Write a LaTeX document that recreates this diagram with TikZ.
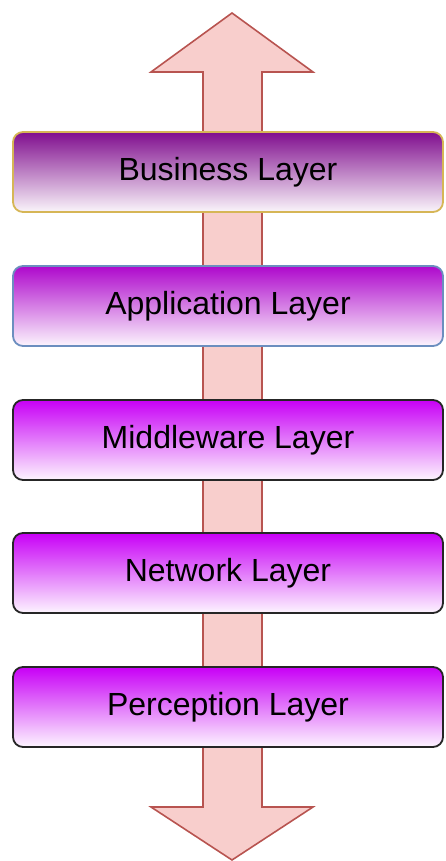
\documentclass[tikz,border=0pt]{standalone}
\usepackage{fontspec}
\setmainfont{Liberation Sans}
\usepackage{tikz}
\usetikzlibrary{positioning, calc}
\definecolor{arrowfill}{HTML}{F8CECC}
\definecolor{arrowline}{HTML}{B85450}
\definecolor{bizline}{HTML}{D6B656}
\definecolor{appline}{HTML}{6C8EBF}
\definecolor{bizpurple}{HTML}{800E8E}
\definecolor{apppurple}{HTML}{AE08CC}
\definecolor{violet}{HTML}{C800F6}

\begin{document}
\begin{tikzpicture}[x=0.5pt, y=-0.5pt,
  font=\fontsize{16}{19}\selectfont,
  layer/.style={rounded corners=5pt, line width=0.9pt, align=center,
                minimum width=215pt, minimum height=40pt, inner sep=0pt},
  updown/.style={fill=arrowfill, draw=arrowline, line width=0.8pt, line join=miter}]
  \useasboundingbox (0,0) rectangle (445,861);

  % double arrow behind the stack
  \draw[updown] (232,13) -- (313,72) -- (262,72) -- (262,807) -- (313,807)
        -- (232,860) -- (151,807) -- (203,807) -- (203,72) -- (151,72) -- cycle;

  \node[layer, draw=bizline, top color=bizpurple, bottom color=bizpurple!4]
        (biz) at (228,172) {Business Layer};
  \node[layer, draw=appline, top color=apppurple, bottom color=apppurple!4]
        (app) at (228,306) {Application Layer};
  \node[layer, draw=black!85, top color=violet, bottom color=violet!4]
        (mid) at (228,440) {Middleware Layer};
  \node[layer, draw=black!85, top color=violet, bottom color=violet!4]
        (net) at (228,573) {Network Layer};
  \node[layer, draw=black!85, top color=violet, bottom color=violet!4]
        (per) at (228,707) {Perception Layer};
\end{tikzpicture}
\end{document}
